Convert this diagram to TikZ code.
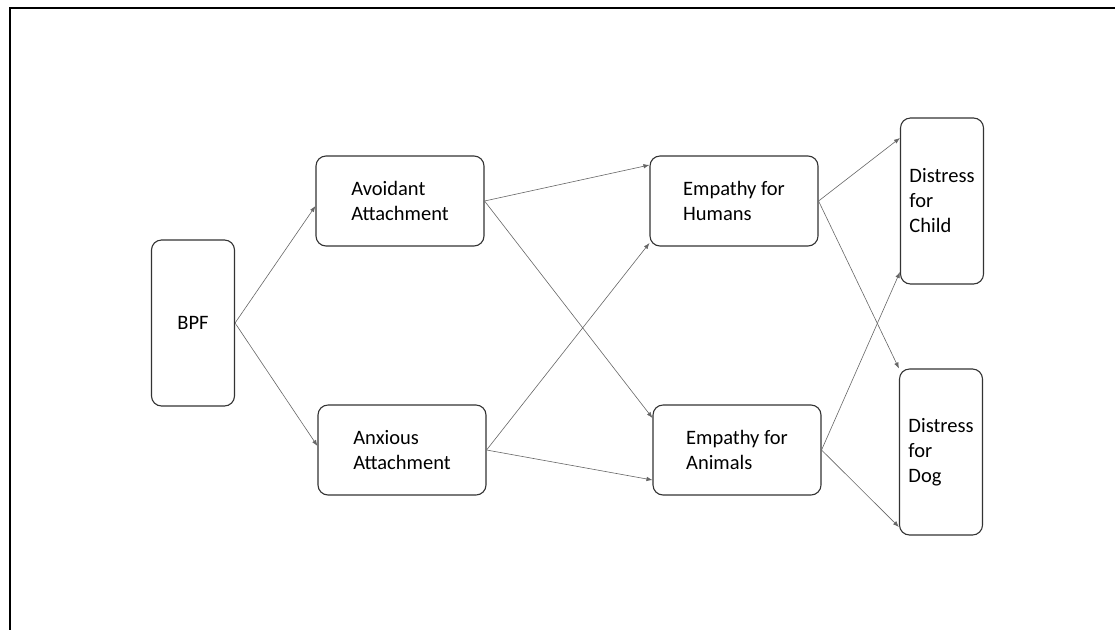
\documentclass[tikz,border=0pt]{standalone}
\usepackage{fontspec}
\setmainfont{Carlito}
\usetikzlibrary{arrows.meta}

\tikzset{
    box/.style={draw=black!80, line width=1.1pt, rounded corners=10pt, align=left,
        font=\fontsize{20.5}{25}\selectfont, inner sep=0pt},
    wide/.style={box, minimum width=168pt, minimum height=90pt},
    tall/.style={box, minimum width=83pt, minimum height=166pt},
    link/.style={draw=black!60, line width=0.6pt, -{Latex[length=6pt,width=4.5pt]}}
}

\begin{document}
\begin{tikzpicture}[x=1pt,y=-1pt]

\useasboundingbox (0,0) rectangle (1115,630);
\draw[line width=1.4pt] (1115,8) -- (10,8) -- (10,630);

\node[tall] (bpf) at (193,323) {BPF};

\node[wide] (av)  at (400,201) {Avoidant\\Attachment};
\node[wide] (anx) at (402,450) {Anxious\\Attachment};

\node[wide] (eh) at (734,201) {Empathy for\\Humans};
\node[wide] (ea) at (737,450) {Empathy for\\Animals};

\node[tall] (child) at (942,201) {Distress\\for\\Child};
\node[tall] (dog)   at (941,452) {Distress\\for\\Dog};

\draw[link] (bpf.east) -- ([yshift=-5pt]av.west);
\draw[link] (bpf.east) -- ([yshift=4pt]anx.west);

\draw[link] (av.east) -- ([yshift=36pt]eh.west);
\draw[link] (av.east) -- ([yshift=32pt]ea.west);
\draw[link] (anx.east) -- ([yshift=-42pt]eh.west);
\draw[link] (anx.east) -- ([yshift=-30pt]ea.west);

\draw[link] (eh.east) -- ([yshift=63pt]child.west);
\draw[link] (eh.east) -- (dog.north west);
\draw[link] (ea.east) -- ([yshift=-71pt]child.west);
\draw[link] (ea.east) -- ([yshift=-75pt]dog.west);

\end{tikzpicture}
\end{document}
